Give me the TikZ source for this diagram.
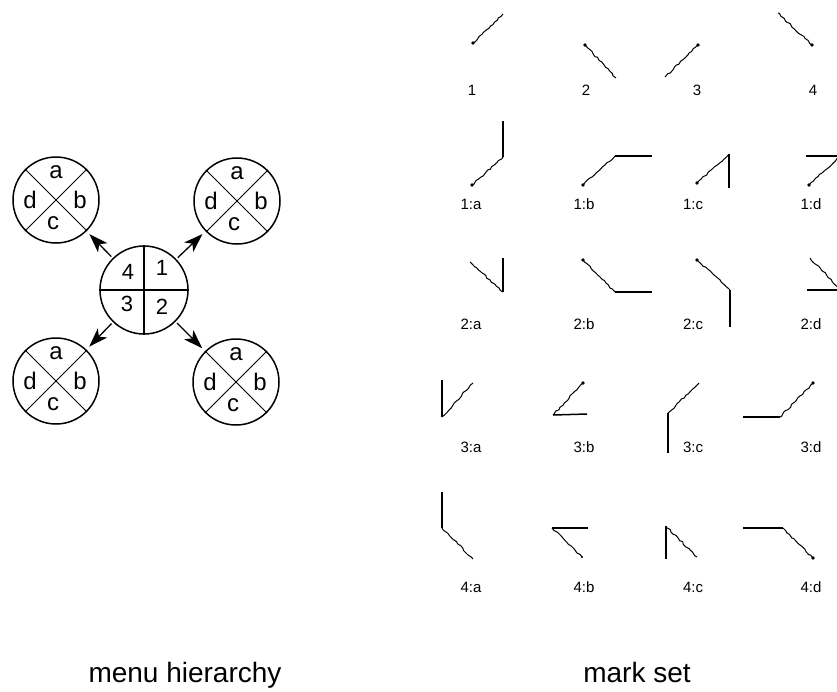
\documentclass[tikz,border=0pt]{standalone}
\usepackage{fontspec}
\setmainfont{Liberation Sans}
\usetikzlibrary{arrows.meta,decorations.pathmorphing}

\begin{document}
\begin{tikzpicture}
	[%%%%%%%%%%%%%%%%%%%%%%%%%%%%%%
	x=1pt,y=-1pt,
	menu/.style={circle,draw=black,line width=1.5pt,minimum size=88pt,inner sep=0pt},
	submenu/.style={circle,draw=black,line width=1.5pt,minimum size=86pt,inner sep=0pt},
	item/.style={font=\fontsize{22}{22}\selectfont,inner sep=0pt},
	subitem/.style={font=\fontsize{24}{24}\selectfont,inner sep=0pt},
	branch/.style={line width=1.3pt,-{Stealth[length=19pt,width=13pt,inset=5pt]},shorten <=2pt,shorten >=4pt},
	ink/.style={line width=1pt,decorate,decoration={random steps,segment length=3pt,amplitude=0.8pt}},
	pen/.style={line width=1.5pt},
	lab/.style={font=\fontsize{15}{15}\selectfont,inner sep=0pt},
	caption/.style={font=\fontsize{28}{28}\selectfont,anchor=base,inner sep=0pt},
	]%%%%%%%%%%%%%%%%%%%%%%%%%%%%%%

	\useasboundingbox (0,0) rectangle (837,691);
	\clip (0,0) rectangle (837,691);

	% menu hierarchy
	\node[menu] (top) at (144,290) {};
	\draw[pen] (top.north) -- (top.south);
	\draw[pen] (top.west) -- (top.east);
	\node[item] (item1) at ([xshift=18pt,yshift=22pt]top) {1};
	\node[item] (item2) at ([xshift=18pt,yshift=-17pt]top) {2};
	\node[item] (item3) at ([xshift=-17pt,yshift=-14pt]top) {3};
	\node[item] (item4) at ([xshift=-16pt,yshift=18pt]top) {4};

	\foreach \n/\p in {1/{237,201},2/{236,382},3/{56,381},4/{56,200}}{
		\node[submenu] (sub\n) at (\p) {};
		\draw[line width=1pt] (sub\n.north west) -- (sub\n.south east);
		\draw[line width=1pt] (sub\n.north east) -- (sub\n.south west);
		\node[subitem] (sub\n-a) at ([yshift=28pt]sub\n) {a};
		\node[subitem] (sub\n-b) at ([xshift=24pt]sub\n) {b};
		\node[subitem] (sub\n-c) at ([xshift=-3pt,yshift=-23pt]sub\n) {c};
		\node[subitem] (sub\n-d) at ([xshift=-26pt]sub\n) {d};
		\draw[branch] (top) -- (sub\n);
	}

	% mark set, first level
	\draw[ink] (473,43) -- (503,14);
	\fill (473,43) circle (1.8pt);
	\draw[ink] (585,45) -- (616,78);
	\fill (585,45) circle (1.8pt);
	\draw[ink] (698,45) -- (665,77);
	\fill (698,45) circle (1.8pt);
	\draw[ink] (812,45) -- (778,13);
	\fill (812,45) circle (1.8pt);

	% 1:a .. 1:d
	\draw[ink] (472,185) -- (503,157);
	\draw[pen] (503,157) -- (503,121);
	\fill (472,185) circle (1.8pt);
	\draw[ink] (583,185) -- (615,156);
	\draw[pen] (615,156) -- (652,156);
	\fill (583,185) circle (1.8pt);
	\draw[ink] (697,183) -- (729,154);
	\draw[pen] (729,154) -- (729,188);
	\fill (697,183) circle (1.8pt);
	\draw[ink] (809,185) -- (840,156);
	\draw[pen] (840,156) -- (806,156);
	\fill (809,185) circle (1.8pt);

	% 2:a .. 2:d
	\draw[ink] (470,262) -- (503,292);
	\draw[pen] (503,292) -- (503,258);
	\draw[ink] (583,260) -- (615,292);
	\draw[pen] (615,292) -- (652,292);
	\fill (583,260) circle (1.8pt);
	\draw[ink] (697,260) -- (730,290);
	\draw[pen] (730,290) -- (730,327);
	\fill (697,260) circle (1.8pt);
	\draw[ink] (810,258) -- (841,290);
	\draw[pen] (841,290) -- (807,290);

	% 3:a .. 3:d
	\draw[ink] (473,383) -- (442,417);
	\draw[pen] (442,417) -- (442,380);
	\draw[ink] (583,383) -- (553,415);
	\draw[pen] (553,415) -- (587,414);
	\fill (583,383) circle (1.8pt);
	\draw[ink] (699,383) -- (668,413);
	\draw[pen] (668,413) -- (668,453);
	\draw[ink] (813,383) -- (780,417);
	\draw[pen] (780,417) -- (743,417);
	\fill (813,383) circle (1.8pt);

	% 4:a .. 4:d
	\draw[ink] (473,559) -- (442,528);
	\draw[pen] (442,528) -- (442,492);
	\draw[ink] (582,557) -- (552,528);
	\draw[pen] (552,528) -- (588,528);
	\fill (582,557) circle (1.2pt);
	\draw[ink] (697,557) -- (666,526);
	\draw[pen] (666,526) -- (666,559);
	\draw[ink] (813,558) -- (783,528);
	\draw[pen] (783,528) -- (743,528);
	\fill (813,558) circle (1.8pt);

	% labels
	\foreach \t/\x in {1/472,2/586,3/697,4/813}
		\node[lab] (lab\t) at (\x,90) {\t};
	\foreach \r/\y in {1/204,2/324,3/447,4/587}{
		\foreach \c/\x in {a/471,b/584,c/693,d/811}
			\node[lab] (lab\r\c) at (\x,\y) {\r:\c};
	}

	\node[caption] (menucap) at (185,682) {menu hierarchy};
	\node[caption] (markcap) at (637,682) {mark set};

\end{tikzpicture}
\end{document}
